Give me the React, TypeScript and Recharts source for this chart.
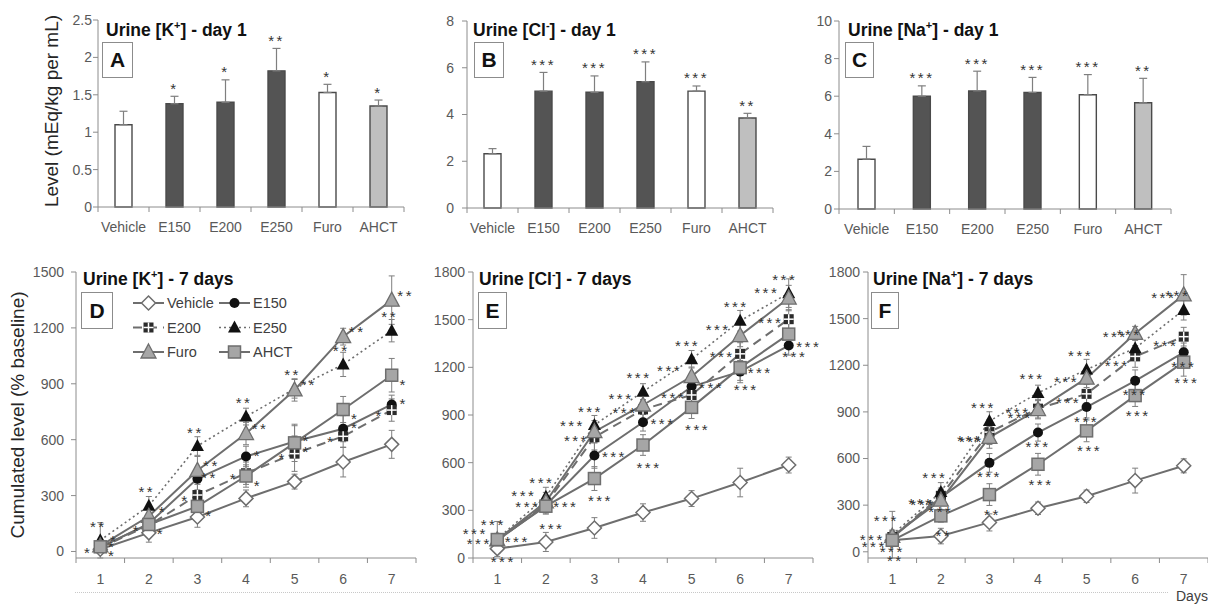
import React from 'react'
import {
  ComposedChart,
  Bar,
  Line,
  XAxis,
  YAxis,
  ErrorBar,
  LabelList,
  Legend,
  Cell
} from 'recharts'

const groups = ['Vehicle', 'E150', 'E200', 'E250', 'Furo', 'AHCT']

// day 1 levels (mEq/kg per mL), upper error only
const kDay1 = [1.1, 1.38, 1.4, 1.82, 1.53, 1.35]
const kDay1Err = [0.18, 0.1, 0.3, 0.3, 0.11, 0.08]
const kDay1Stars = ['', '*', '*', '**', '*', '*']

const clDay1 = [2.32, 5.0, 4.95, 5.4, 5.0, 3.85]
const clDay1Err = [0.22, 0.8, 0.7, 0.85, 0.22, 0.2]
const clDay1Stars = ['', '***', '***', '***', '***', '**']

const naDay1 = [2.65, 6.0, 6.28, 6.2, 6.08, 5.65]
const naDay1Err = [0.68, 0.55, 1.05, 0.8, 1.07, 1.3]
const naDay1Stars = ['', '***', '***', '***', '***', '**']

const kTicks = [0, 0.5, 1, 1.5, 2, 2.5]
const clTicks = [0, 2, 4, 6, 8]
const naTicks = [0, 2, 4, 6, 8, 10]
const cumKTicks = [0, 300, 600, 900, 1200, 1500]
const cumTicks = [0, 300, 600, 900, 1200, 1500, 1800]

// cumulated levels over 7 days (% baseline)
const days = ['1', '2', '3', '4', '5', '6', '7']
const lineKeys = ['Vehicle', 'E150', 'E200', 'E250', 'Furo', 'AHCT']

const kVehicle = [12, 100, 185, 285, 375, 480, 575]
const kVehicleErr = [10, 50, 55, 45, 40, 80, 75]
const kE150 = [22, 150, 391, 510, 590, 659, 789]
const kE150Err = [25, 35, 60, 55, 85, 70, 50]
const kE200 = [20, 140, 303, 420, 525, 618, 759]
const kE200Err = [25, 35, 65, 60, 95, 60, 60]
const kE250 = [60, 245, 566, 724, 873, 1004, 1185]
const kE250Err = [95, 50, 50, 45, 50, 65, 60]
const kFuro = [30, 189, 435, 633, 867, 1153, 1349]
const kFuroErr = [30, 40, 75, 60, 60, 45, 130]
const kAHCT = [25, 145, 242, 405, 583, 762, 946]
const kAHCTErr = [20, 40, 50, 60, 100, 70, 90]
const kE150Stars = ['*', '', '**', '*', '*', '*', '*']
const kE200Stars = ['*', '*', '*', '*', '*', '*', '*']
const kE250Stars = ['**', '**', '**', '**', '**', '**', '**']
const kFuroStars = ['*', '*', '**', '**', '**', '**', '**']
const kAHCTStars = ['*', '*', '*', '*', '*', '*', '*']

const clVehicle = [59, 101, 189, 286, 374, 475, 585]
const clVehicleErr = [30, 60, 65, 55, 50, 90, 50]
const clE150 = [110, 332, 645, 854, 1079, 1173, 1337]
const clE150Err = [40, 50, 80, 55, 60, 70, 60]
const clE200 = [110, 340, 760, 935, 1026, 1285, 1503]
const clE200Err = [40, 50, 80, 60, 60, 70, 60]
const clE250 = [120, 385, 837, 1047, 1251, 1493, 1667]
const clE250Err = [110, 60, 60, 50, 55, 65, 90]
const clFuro = [115, 353, 795, 963, 1142, 1400, 1636]
const clFuroErr = [40, 60, 70, 60, 60, 70, 80]
const clAHCT = [116, 326, 500, 711, 948, 1198, 1409]
const clAHCTErr = [30, 50, 75, 65, 70, 80, 80]
const clStars = ['***', '***', '***', '***', '***', '***', '***']

const naVehicle = [74, 101, 189, 280, 357, 458, 553]
const naVehicleErr = [30, 50, 55, 40, 40, 80, 45]
const naE150 = [90, 350, 572, 767, 931, 1100, 1283]
const naE150Err = [40, 50, 60, 55, 70, 70, 60]
const naE200 = [95, 360, 770, 921, 1016, 1257, 1384]
const naE200Err = [40, 50, 80, 60, 60, 70, 60]
const naE250 = [110, 385, 841, 1022, 1173, 1310, 1556]
const naE250Err = [150, 60, 60, 50, 65, 65, 65]
const naFuro = [100, 332, 736, 915, 1117, 1405, 1653]
const naFuroErr = [40, 60, 70, 60, 60, 45, 130]
const naAHCT = [74, 231, 368, 563, 778, 1005, 1220]
const naAHCTErr = [40, 40, 70, 70, 70, 70, 90]
const naStars = ['***', '***', '***', '***', '***', '***', '***']
const naAHCTStars = ['**', '**', '**', '***', '***', '***', '***']
const noStars = ['', '', '', '', '', '', '']

const FONT = "'Liberation Sans', Arial, sans-serif"
const AXIS = '#8c8c8c'
const TICK = '#595959'
const LINE = '#6e6e6e'
const barFill = ['#ffffff', '#545454', '#545454', '#545454', '#ffffff', '#bfbfbf']

const lineStyle: Record<string, { width: number; dash?: string }> = {
  Vehicle: { width: 2 },
  E150: { width: 2 },
  E200: { width: 2, dash: '9 6' },
  E250: { width: 1.6, dash: '2 3' },
  Furo: { width: 2 },
  AHCT: { width: 2 }
}

function frame(x0: number, x1: number, y0: number, y1: number) {
  const left = x0 - 60
  const top = y0 - 30
  return {
    left,
    top,
    width: x1 - left + 12,
    height: y1 - top + 40,
    margin: { top: 30, right: 12, bottom: 0, left: 0 }
  }
}

function Marker({ kind, cx, cy }: { kind: string; cx?: number; cy?: number }) {
  if (cx == null || cy == null) return null
  switch (kind) {
    case 'Vehicle':
      return <polygon points={`${cx},${cy - 7} ${cx + 7},${cy} ${cx},${cy + 7} ${cx - 7},${cy}`} fill="#fff" stroke={LINE} strokeWidth={1.5} />
    case 'E150':
      return <circle cx={cx} cy={cy} r={5} fill="#111" />
    case 'E200':
      return (
        <g>
          <rect x={cx - 5} y={cy - 5} width={10} height={10} fill="#2b2b2b" />
          <line x1={cx - 5} x2={cx + 5} y1={cy} y2={cy} stroke="#fff" strokeWidth={1.5} />
          <line x1={cx} x2={cx} y1={cy - 5} y2={cy + 5} stroke="#fff" strokeWidth={1.5} />
        </g>
      )
    case 'E250':
      return <polygon points={`${cx},${cy - 7} ${cx + 6.5},${cy + 5} ${cx - 6.5},${cy + 5}`} fill="#111" />
    case 'Furo':
      return <polygon points={`${cx},${cy - 8} ${cx + 7.5},${cy + 6} ${cx - 7.5},${cy + 6}`} fill="#a6a6a6" stroke={LINE} strokeWidth={1.3} />
    default:
      return <rect x={cx - 6} y={cy - 6} width={12} height={12} fill="#a6a6a6" stroke={LINE} strokeWidth={1.5} />
  }
}

const starLabel = (dx: number, dy: number) => (p: any) => {
  const vb = p.viewBox || {}
  const x = (p.x ?? vb.x) + dx
  const y = (p.y ?? vb.y) + dy
  if (!p.value) return null
  return (
    <text x={x} y={y + 8.5} textAnchor="middle" fontSize={15} letterSpacing={2.5} fill="#333" fontFamily={FONT}>
      {p.value}
    </text>
  )
}

// category labels centred, tick marks between categories (Excel style)
const catTick = (band: number, n: number, labelDy: number) => (p: any) => {
  const { x, y, payload, index } = p
  return (
    <g>
      <line x1={x - band / 2} x2={x - band / 2} y1={y} y2={y + 5} stroke={AXIS} />
      {index === n - 1 && <line x1={x + band / 2} x2={x + band / 2} y1={y} y2={y + 5} stroke={AXIS} />}
      <text x={x} y={y + labelDy} textAnchor="middle" fill={TICK} fontSize={14} fontFamily={FONT}>
        {payload.value}
      </text>
    </g>
  )
}

function BarPanel(props: {
  x0: number; x1: number; y0: number; y1: number
  values: number[]; errs: number[]; stars: string[]; ticks: number[]; tickMargin: number
}) {
  const { x0, x1, y0, y1, values, errs, stars, ticks, tickMargin } = props
  const f = frame(x0, x1, y0, y1)
  const band = (x1 - x0) / groups.length
  const rows = groups.map((g, i) => ({
    name: g,
    value: values[i],
    err: [0, errs[i]],
    top: values[i] + errs[i],
    stars: stars[i]
  }))
  return (
    <div style={{ position: 'absolute', left: f.left, top: f.top }}>
      <ComposedChart width={f.width} height={f.height} data={rows} margin={f.margin}>
        <XAxis
          dataKey="name"
          height={40}
          interval={0}
          tickSize={0}
          tickMargin={0}
          tickLine={false}
          axisLine={{ stroke: AXIS }}
          tick={catTick(band, groups.length, 25)}
        />
        <YAxis
          width={60}
          domain={[0, ticks[ticks.length - 1]]}
          ticks={ticks}
          interval={0}
          tickSize={5}
          tickMargin={tickMargin}
          axisLine={{ stroke: AXIS }}
          tickLine={{ stroke: AXIS }}
          tick={{ fill: TICK, fontSize: 14, fontFamily: FONT }}
        />
        <Bar dataKey="value" barSize={17} isAnimationActive={false} stroke="#4a4a4a" strokeWidth={1.4}>
          {rows.map((r, i) => (
            <Cell key={r.name} fill={barFill[i]} />
          ))}
          <ErrorBar dataKey="err" width={4} stroke="#7f7f7f" strokeWidth={1.2} direction="y" />
        </Bar>
        <Line dataKey="top" stroke="none" dot={false} activeDot={false} legendType="none" isAnimationActive={false}>
          <LabelList dataKey="stars" content={starLabel(0, -11)} />
        </Line>
      </ComposedChart>
    </div>
  )
}

function LegendBox() {
  return (
    <svg width={200} height={70} style={{ overflow: 'visible' }}>
      {lineKeys.map((k, i) => {
        const x = (i % 2) * 86
        const y = Math.floor(i / 2) * 24.5 + 10
        const st = lineStyle[k]
        return (
          <g key={k}>
            <line x1={x} x2={x + 31} y1={y} y2={y} stroke={LINE} strokeWidth={st.width} strokeDasharray={st.dash} />
            <Marker kind={k} cx={x + 15.5} cy={y} />
            <text x={x + 34} y={y + 5} fontSize={14.5} fill="#404040" fontFamily={FONT}>
              {k}
            </text>
          </g>
        )
      })}
    </svg>
  )
}

function LinePanel(props: {
  x0: number; x1: number; y0: number; y1: number
  vals: number[][]; errs: number[][]; stars: string[][]; ticks: number[]
  tickMargin: number; offsets: Record<string, [number, number]>; legend?: boolean
}) {
  const { x0, x1, y0, y1, vals, errs, stars, ticks, tickMargin, offsets, legend } = props
  const f = frame(x0, x1, y0, y1)
  const band = (x1 - x0) / days.length
  const rows = days.map((d, i) => {
    const row: Record<string, any> = { day: d }
    lineKeys.forEach((k, j) => {
      row[k] = vals[j][i]
      row[k + 'Err'] = errs[j][i]
      row[k + 'Stars'] = stars[j][i]
    })
    return row
  })
  return (
    <div style={{ position: 'absolute', left: f.left, top: f.top }}>
      <ComposedChart width={f.width} height={f.height} data={rows} margin={f.margin}>
        <XAxis
          dataKey="day"
          height={40}
          interval={0}
          padding={{ left: band / 2, right: band / 2 }}
          tickSize={0}
          tickMargin={0}
          tickLine={false}
          axisLine={{ stroke: AXIS }}
          tick={catTick(band, days.length, 26)}
        />
        <YAxis
          width={60}
          domain={[0, ticks[ticks.length - 1]]}
          ticks={ticks}
          interval={0}
          tickSize={5}
          tickMargin={tickMargin}
          axisLine={{ stroke: AXIS }}
          tickLine={{ stroke: AXIS }}
          tick={{ fill: TICK, fontSize: 14, fontFamily: FONT }}
        />
        {legend && (
          <Legend
            layout="vertical"
            align="center"
            verticalAlign="middle"
            content={() => <LegendBox />}
            wrapperStyle={{ left: 133 - f.left, top: 303 - 10 - f.top, width: 200, height: 70 }}
          />
        )}
        {lineKeys.map((k) => {
          const st = lineStyle[k]
          const off = offsets[k] || [0, 0]
          return (
            <Line
              key={k}
              dataKey={k}
              name={k}
              stroke={LINE}
              strokeWidth={st.width}
              strokeDasharray={st.dash}
              isAnimationActive={false}
              activeDot={false}
              dot={(p: any) => <Marker key={`${k}-${p.index}`} kind={k} cx={p.cx} cy={p.cy} />}
            >
              <ErrorBar dataKey={k + 'Err'} width={3} stroke="#7f7f7f" strokeWidth={1} direction="y" />
              <LabelList dataKey={k + 'Stars'} content={starLabel(off[0], off[1])} />
            </Line>
          )
        })}
      </ComposedChart>
    </div>
  )
}

function Title({ x, y, ion, sup, rest }: { x: number; y: number; ion: string; sup: string; rest: string }) {
  return (
    <div style={{ position: 'absolute', left: x, top: y, fontSize: 17.5, fontWeight: 'bold', color: '#111', lineHeight: '18px', whiteSpace: 'nowrap' }}>
      Urine [{ion}
      <span style={{ fontSize: 11, position: 'relative', top: -7 }}>{sup}</span>] - {rest}
    </div>
  )
}

function LetterBox({ x, y, w, h, letter }: { x: number; y: number; w: number; h: number; letter: string }) {
  return (
    <div
      style={{
        position: 'absolute', left: x, top: y, width: w, height: h, boxSizing: 'border-box',
        border: '1.5px solid #8c8c8c', background: '#fff', display: 'flex', alignItems: 'center',
        justifyContent: 'center', fontSize: 21, fontWeight: 'bold', color: '#111'
      }}
    >
      {letter}
    </div>
  )
}

function VLabel({ cx, cy, text }: { cx: number; cy: number; text: string }) {
  return (
    <div
      style={{
        position: 'absolute', left: cx - 150, top: cy - 12, width: 300, height: 24, lineHeight: '24px',
        textAlign: 'center', fontSize: 19, color: '#262626', transform: 'rotate(-90deg)', whiteSpace: 'nowrap'
      }}
    >
      {text}
    </div>
  )
}

export default function App() {
  return (
    <div style={{ position: 'absolute', left: 0, top: 0, width: 1208, height: 604, overflow: 'hidden', background: '#fff', fontFamily: FONT }}>
      <BarPanel x0={98} x1={404} y0={20} y1={207} values={kDay1} errs={kDay1Err} stars={kDay1Stars} ticks={kTicks} tickMargin={1} />
      <BarPanel x0={467} x1={773} y0={21} y1={208} values={clDay1} errs={clDay1Err} stars={clDay1Stars} ticks={clTicks} tickMargin={8} />
      <BarPanel x0={839} x1={1171} y0={21} y1={209} values={naDay1} errs={naDay1Err} stars={naDay1Stars} ticks={naTicks} tickMargin={2} />

      <LinePanel
        x0={76} x1={416} y0={272} y1={558}
        vals={[kVehicle, kE150, kE200, kE250, kFuro, kAHCT]}
        errs={[kVehicleErr, kE150Err, kE200Err, kE250Err, kFuroErr, kAHCTErr]}
        stars={[noStars, kE150Stars, kE200Stars, kE250Stars, kFuroStars, kAHCTStars]}
        ticks={cumKTicks}
        tickMargin={7}
        offsets={{ E150: [12, -4], E200: [-12, 2], E250: [-2, -17], Furo: [14, -8], AHCT: [12, 6] }}
        legend
      />
      <LinePanel
        x0={473} x1={813} y0={272} y1={558}
        vals={[clVehicle, clE150, clE200, clE250, clFuro, clAHCT]}
        errs={[clVehicleErr, clE150Err, clE200Err, clE250Err, clFuroErr, clAHCTErr]}
        stars={[noStars, clStars, clStars, clStars, clStars, clStars]}
        ticks={cumTicks}
        tickMargin={3}
        offsets={{ E150: [20, -2], E200: [-18, 0], E250: [-4, -17], Furo: [-22, -9], AHCT: [6, 19] }}
      />
      <LinePanel
        x0={868} x1={1208} y0={272} y1={558}
        vals={[naVehicle, naE150, naE200, naE250, naFuro, naAHCT]}
        errs={[naVehicleErr, naE150Err, naE200Err, naE250Err, naFuroErr, naAHCTErr]}
        stars={[noStars, naStars, naStars, naStars, naStars, naAHCTStars]}
        ticks={cumTicks}
        tickMargin={3}
        offsets={{ E150: [0, 11], E200: [-18, 6], E250: [-6, -17], Furo: [-20, 0], AHCT: [3, 17] }}
      />

      <Title x={106} y={21} ion="K" sup="+" rest="day 1" />
      <Title x={473} y={21} ion="Cl" sup="-" rest="day 1" />
      <Title x={848} y={21} ion="Na" sup="+" rest="day 1" />
      <Title x={83} y={270} ion="K" sup="+" rest="7 days" />
      <Title x={479} y={270} ion="Cl" sup="-" rest="7 days" />
      <Title x={873} y={270} ion="Na" sup="+" rest="7 days" />

      <LetterBox x={102} y={42} w={31} h={36} letter="A" />
      <LetterBox x={474} y={42} w={30} h={36} letter="B" />
      <LetterBox x={845} y={42} w={29} h={36} letter="C" />
      <LetterBox x={81} y={292} w={32} h={37} letter="D" />
      <LetterBox x={478} y={292} w={29} h={37} letter="E" />
      <LetterBox x={871} y={292} w={28} h={37} letter="F" />

      <VLabel cx={52} cy={111} text="Level (mEq/kg per mL)" />
      <VLabel cx={18} cy={415} text="Cumulated level (% baseline)" />

      <div style={{ position: 'absolute', left: 75, top: 592, width: 1093, borderTop: '1px dotted #c8c8c8' }} />
      <div style={{ position: 'absolute', left: 1176, top: 588, fontSize: 14, color: '#404040' }}>Days</div>
    </div>
  )
}
